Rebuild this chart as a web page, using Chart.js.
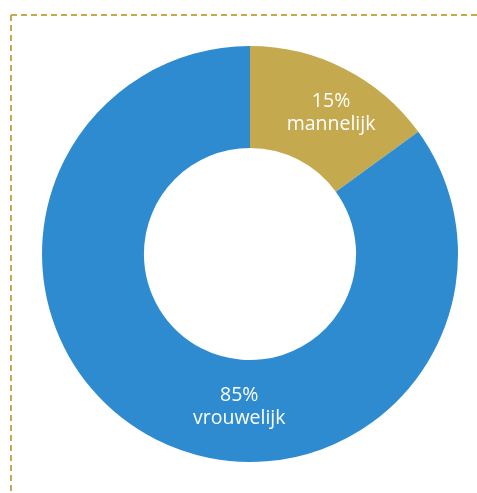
<!DOCTYPE html>
<html>
<head>
<meta charset="utf-8">
<script src="https://cdn.jsdelivr.net/npm/chart.js@4/dist/chart.umd.min.js"></script>
<style>
  html, body { margin: 0; padding: 0; background: #ffffff; }
  #wrap { position: relative; width: 477px; height: 493px; }
</style>
</head>
<body>
<div id="wrap"><canvas id="c" width="477" height="493"></canvas></div>
<script>
const categories = ['mannelijk', 'vrouwelijk'];
const percentages = [15, 85];
const sliceColors = ['#C4A94F', '#2E8BCF'];
// label placement: angle (deg, clockwise from top) and fraction of ring
const labelAngles = [30, 184];
const labelRadiusFrac = [0.55, 0.47];

const dashedFrame = {
  id: 'dashedFrame',
  beforeDraw(chart) {
    const ctx = chart.ctx;
    ctx.save();
    ctx.strokeStyle = '#C4A94F';
    ctx.lineWidth = 2;
    ctx.setLineDash([6, 4]);
    ctx.beginPath();
    ctx.moveTo(11, 15);
    ctx.lineTo(chart.width, 15);
    ctx.moveTo(11, 15);
    ctx.lineTo(11, chart.height);
    ctx.stroke();
    ctx.restore();
  }
};

const sliceLabels = {
  id: 'sliceLabels',
  afterDatasetsDraw(chart) {
    const ctx = chart.ctx;
    const meta = chart.getDatasetMeta(0);
    ctx.save();
    ctx.fillStyle = '#ffffff';
    ctx.font = '19.5px "Open Sans", "Noto Sans", sans-serif';
    ctx.textAlign = 'center';
    ctx.textBaseline = 'middle';
    meta.data.forEach((arc, i) => {
      const p = arc.getProps(['x', 'y', 'innerRadius', 'outerRadius'], true);
      const r = p.innerRadius + (p.outerRadius - p.innerRadius) * labelRadiusFrac[i];
      const a = labelAngles[i] * Math.PI / 180;
      const cx = p.x + Math.sin(a) * r;
      const cy = p.y - Math.cos(a) * r;
      ctx.fillText(percentages[i] + '%', cx, cy - 12);
      ctx.fillText(categories[i], cx, cy + 11);
    });
    ctx.restore();
  }
};

new Chart(document.getElementById('c'), {
  type: 'doughnut',
  data: {
    labels: categories,
    datasets: [{
      data: percentages,
      backgroundColor: sliceColors,
      borderWidth: 0,
      hoverOffset: 0
    }]
  },
  options: {
    responsive: false,
    animation: false,
    cutout: '51%',
    layout: { padding: { left: 42, right: 19, top: 46, bottom: 31 } },
    plugins: {
      legend: { display: false },
      tooltip: { enabled: false }
    }
  },
  plugins: [dashedFrame, sliceLabels]
});
</script>
</body>
</html>
